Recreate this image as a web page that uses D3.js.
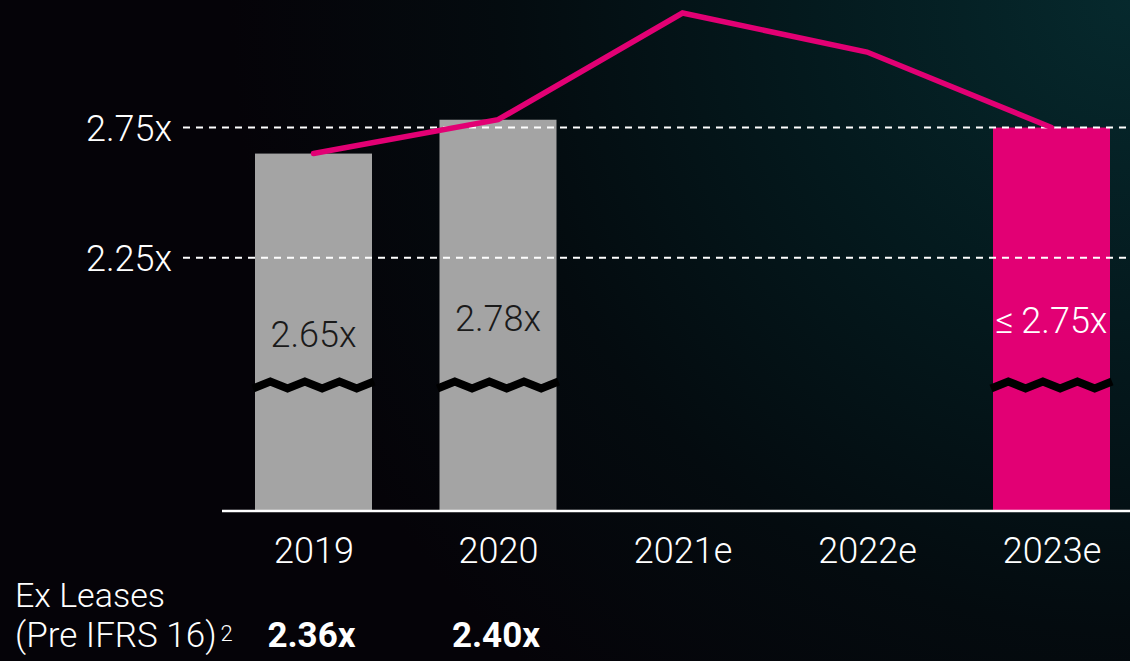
<!DOCTYPE html>
<html>
<head>
<meta charset="utf-8">
<script src="https://cdn.jsdelivr.net/npm/d3@7"></script>
<style>
  html, body { margin: 0; padding: 0; background: #050308; }
  svg { display: block; }
  text { font-family: Roboto, "Noto Sans", sans-serif; }
</style>
</head>
<body>
<svg id="chart" width="1130" height="661"></svg>
<script>
// ---- data ----
const categories = ["2019", "2020", "2021e", "2022e", "2023e"];
const barValues = [2.65, 2.78, null, null, 2.75];
const barLabels = ["2.65x", "2.78x", "", "", "\u2264\u20092.75x"];
const lineValues = [2.65, 2.78, 3.19, 3.04, 2.75];
const exLeaseLabels = ["2.36x", "2.40x", "", "", ""];
const tickValues = [2.25, 2.75];
const tickLabels = ["2.25x", "2.75x"];
const rowTitle = ["Ex Leases", "(Pre IFRS 16)"];

// ---- layout ----
const W = 1130, H = 661;
const MAGENTA = "#e20074", GREY = "#a4a4a4";
const svg = d3.select("#chart");

// background
const defs = svg.append("defs");
const rg = defs.append("radialGradient").attr("id", "bg")
  .attr("gradientUnits", "userSpaceOnUse")
  .attr("cx", 1130).attr("cy", 0).attr("r", 900);
rg.append("stop").attr("offset", 0).attr("stop-color", "#06292d");
rg.append("stop").attr("offset", 0.35).attr("stop-color", "#041a1e");
rg.append("stop").attr("offset", 0.7).attr("stop-color", "#040b0f");
rg.append("stop").attr("offset", 1).attr("stop-color", "#050308");
svg.append("rect").attr("width", W).attr("height", H).attr("fill", "#050308");
svg.append("rect").attr("width", W).attr("height", H).attr("fill", "url(#bg)");

const baseY = 511;
const x = d3.scalePoint().domain(categories).range([313.5, 1051.5]);
const barW = 117;
const y = d3.scaleLinear().domain([1.277, 3.19]).range([baseY, 13]);

const data = categories.map((c, i) => ({
  cat: c, bar: barValues[i], label: barLabels[i], line: lineValues[i], ex: exLeaseLabels[i]
}));

// bars
const bars = data.filter(d => d.bar != null);
svg.append("g").selectAll("rect").data(bars).join("rect")
  .attr("x", d => x(d.cat) - barW / 2)
  .attr("width", barW)
  .attr("y", d => y(d.bar))
  .attr("height", d => baseY - y(d.bar))
  .attr("fill", d => d.cat === "2023e" ? MAGENTA : GREY);

// break marks (zigzag)
const zig = d3.line();
svg.append("g").selectAll("path").data(bars).join("path")
  .attr("d", d => {
    const x0 = x(d.cat) - barW / 2 - 2, x1 = x(d.cat) + barW / 2 + 2;
    const n = 7, pts = [];
    for (let k = 0; k <= n; k++) {
      pts.push([x0 + (x1 - x0) * k / n, 385.5 + (k % 2 === 0 ? 3 : -4)]);
    }
    return zig(pts);
  })
  .attr("fill", "none").attr("stroke", "#000").attr("stroke-width", 8)
  .attr("stroke-linejoin", "miter");

// gridlines
const grid = svg.append("g");
grid.selectAll("line").data(tickValues).join("line")
  .attr("x1", 183).attr("x2", W)
  .attr("y1", d => y(d)).attr("y2", d => y(d))
  .attr("stroke", "#fff").attr("stroke-width", 2)
  .attr("stroke-dasharray", "7,6");
grid.selectAll("text").data(tickValues).join("text")
  .attr("x", 172).attr("y", d => y(d) + 13)
  .attr("text-anchor", "end").attr("fill", "#fff")
  .attr("font-size", 36).attr("font-weight", 300)
  .text((d, i) => tickLabels[i]);

// baseline axis
const xAxis = d3.axisBottom(x).tickSize(0).tickPadding(0);
const ax = svg.append("g").attr("transform", `translate(0,${baseY})`).call(xAxis);
ax.select(".domain").remove();
ax.append("line").attr("x1", 222).attr("x2", W).attr("y1", 0).attr("y2", 0)
  .attr("stroke", "#fff").attr("stroke-width", 2.5);
ax.selectAll(".tick text")
  .attr("y", 52).attr("dy", 0)
  .attr("fill", "#fff").attr("font-size", 36).attr("font-weight", 300)
  .attr("font-family", "Roboto, 'Noto Sans', sans-serif");

// line
svg.append("path").datum(data)
  .attr("d", d3.line().x(d => x(d.cat)).y(d => y(d.line)))
  .attr("fill", "none").attr("stroke", MAGENTA).attr("stroke-width", 5.5)
  .attr("stroke-linecap", "round").attr("stroke-linejoin", "miter");

// bar labels
const labelBase = { "2019": 347, "2020": 331, "2023e": 333 };
svg.append("g").selectAll("text").data(bars).join("text")
  .attr("x", d => x(d.cat)).attr("y", d => labelBase[d.cat])
  .attr("text-anchor", "middle")
  .attr("fill", d => d.cat === "2023e" ? "#fff" : "#1a1a1a")
  .attr("font-size", 36).attr("font-weight", 300)
  .text(d => d.label);

// ex leases row
const row = svg.append("g");
row.append("text").attr("x", 15).attr("y", 607).attr("fill", "#fff")
  .attr("font-size", 34).attr("font-weight", 300).text(rowTitle[0]);
const t2 = row.append("text").attr("x", 15).attr("y", 647).attr("fill", "#fff")
  .attr("font-size", 35).attr("font-weight", 300);
t2.append("tspan").text(rowTitle[1]);
t2.append("tspan").attr("dx", 4).attr("dy", -6).attr("font-size", 22).text("2");
row.selectAll("text.ex").data(data.filter(d => d.ex)).join("text")
  .attr("class", "ex")
  .attr("x", d => x(d.cat) - 2).attr("y", 647)
  .attr("text-anchor", "middle").attr("fill", "#fff")
  .attr("font-size", 35).attr("font-weight", 700)
  .text(d => d.ex);
</script>
</body>
</html>
